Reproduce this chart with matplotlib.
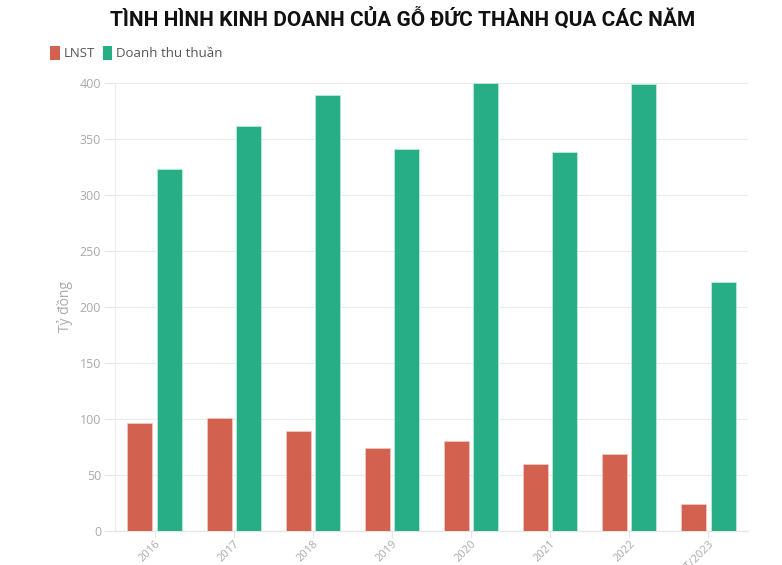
import matplotlib
matplotlib.use("Agg")
import matplotlib.pyplot as plt
import numpy as np
from matplotlib.patches import Patch

categories = ["2016", "2017", "2018", "2019", "2020", "2021", "2022", "6T/2023"]
lnst = [96, 101, 89, 74, 80, 60, 69, 24]
doanh_thu = [323, 362, 389, 341, 400, 338, 399, 222]
series_names = ["LNST", "Doanh thu thuần"]
colors = ["#D26150", "#27AE87"]
yticks = [0, 50, 100, 150, 200, 250, 300, 350, 400]

plt.rcParams['font.family'] = ['Open Sans', 'DejaVu Sans']

fig = plt.figure(figsize=(7.82, 5.65), dpi=100)
ax = fig.add_axes([115/782, 1-531/565, (748-115)/782, (531-83)/565])

x = np.arange(len(categories))
w = 0.315
ax.bar(x - 0.185, lnst, width=w, color=colors[0], edgecolor="#f0c8c0", linewidth=0.6, zorder=3)
ax.bar(x + 0.185, doanh_thu, width=w, color=colors[1], edgecolor="#bfe8da", linewidth=0.6, zorder=3)

ax.set_xlim(-0.5, len(categories) - 0.5)
ax.set_ylim(0, 400)
ax.set_yticks(yticks)
ax.set_yticklabels([str(v) for v in yticks], fontsize=9, color="#aaaaaa")
ax.set_xticks(x)
ax.set_xticklabels(categories, rotation=45, ha="right", rotation_mode="anchor", fontsize=8, color="#aaaaaa")
ax.grid(axis="y", color="#ebebeb", linewidth=0.8, zorder=0)
ax.grid(axis="x", visible=False)
for s in ["top", "right"]:
    ax.spines[s].set_visible(False)
ax.spines["left"].set_color("#ebebeb")
ax.spines["bottom"].set_color("#e6e6e6")
ax.spines["bottom"].set_linewidth(1.0)
ax.tick_params(axis="y", length=8, color="#e6e6e6", pad=2)
ax.tick_params(axis="x", length=5, color="#e6e6e6", pad=0.5)

ax.set_ylabel("Tỷ đồng", fontsize=10, color="#aaaaaa", labelpad=5)

fig.text(403/782, 1-18/565, "TÌNH HÌNH KINH DOANH CỦA GỖ ĐỨC THÀNH QUA CÁC NĂM",
         ha="center", va="center", fontsize=15, fontweight="bold", color="#111111",
         family=['Liberation Sans Narrow', 'Roboto', 'DejaVu Sans'])

handles = [Patch(facecolor=colors[0], edgecolor="none"), Patch(facecolor=colors[1], edgecolor="none")]
leg = fig.legend(handles, series_names, loc="center left", bbox_to_anchor=(45/782, 1-53/565),
                 ncol=2, frameon=False, fontsize=9.5, handlelength=0.7, handleheight=1.3,
                 handletextpad=0.3, columnspacing=0.6, borderaxespad=0)
for t in leg.get_texts():
    t.set_color("#555555")

fig.savefig("out.png", dpi=100)
